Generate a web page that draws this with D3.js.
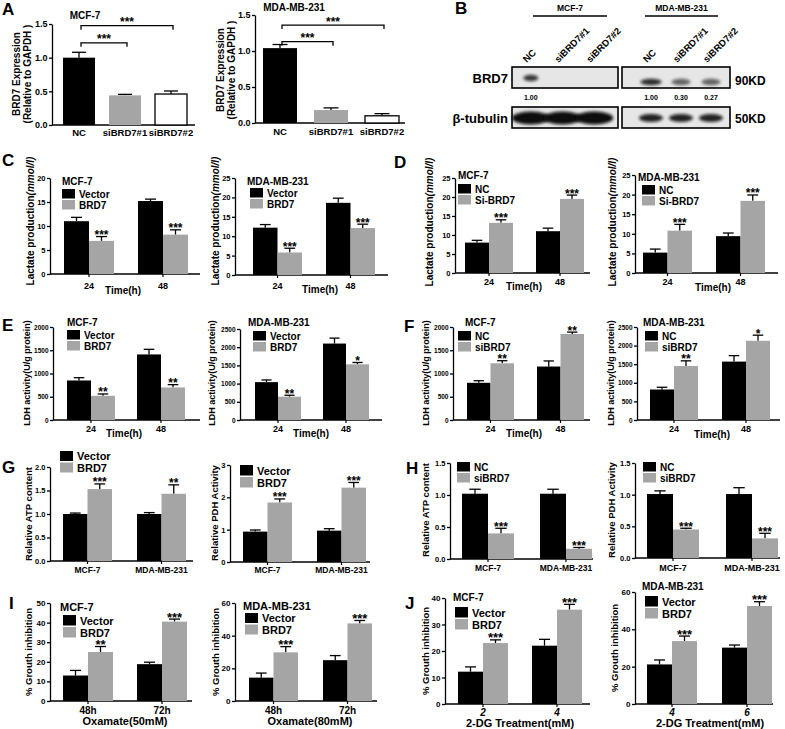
<!DOCTYPE html>
<html>
<head>
<meta charset="utf-8">
<script src="https://cdn.jsdelivr.net/npm/d3@7"></script>
<style>
  body { margin: 0; background: #fff; }
  svg { display: block; }
</style>
</head>
<body>
<div id="chart-area"></div>
<script>
// *********************
// Data
// *********************

// A - BRD7 expression (relative to GAPDH)
const aGroups = ["NC", "siBRD7#1", "siBRD7#2"];
const aMcf = [1.00, 0.44, 0.46];
const aMcfErr = [0.08, 0.015, 0.045];
const aMda = [1.04, 0.18, 0.10];
const aMdaErr = [0.05, 0.03, 0.03];
const aPairs = [[0, 1], [0, 2]];
const aMcfLevels = [1.22, 1.475];
const aMdaLevels = [1.13, 1.36];
const aStars = ["***", "***"];

// B - western blot
const bLanes = ["NC", "siBRD7#1", "siBRD7#2"];
const bCells = ["MCF-7", "MDA-MB-231"];
const bRows = ["BRD7", "β-tubulin"];
const bSizes = ["90KD", "50KD"];
const bBrd7Mcf = [0.8, 0, 0];
const bBrd7Mda = [0.85, 0.6, 0.6];
const bTubMcf = [1, 1, 1];
const bTubMda = [0.9, 0.9, 0.9];
const bRatioMcf = ["1.00", "", ""];
const bRatioMda = ["1.00", "0.30", "0.27"];

// C - lactate, BRD7 overexpression
const timeGroups = ["24", "48"];
const cMcfVector = [11.0, 15.2], cMcfVectorErr = [0.8, 0.4];
const cMcfBrd7 = [6.9, 8.2], cMcfBrd7Err = [0.9, 1.0];
const cMdaVector = [12.2, 18.6], cMdaVectorErr = [0.8, 1.2];
const cMdaBrd7 = [5.8, 12.1], cMdaBrd7Err = [1.1, 1.0];
const cStars = ["***", "***"];

// D - lactate, BRD7 knockdown
const dMcfNC = [8.0, 11.0], dMcfNCErr = [0.6, 0.8];
const dMcfSi = [13.2, 19.5], dMcfSiErr = [0.8, 1.0];
const dMdaNC = [5.2, 9.4], dMdaNCErr = [0.9, 0.8];
const dMdaSi = [10.8, 18.4], dMdaSiErr = [1.6, 1.5];
const dStars = ["***", "***"];

// E - LDH, overexpression
const eMcfVector = [850, 1410], eMcfVectorErr = [60, 110];
const eMcfBrd7 = [520, 700], eMcfBrd7Err = [40, 60];
const eMcfStars = ["**", "**"];
const eMdaVector = [1040, 2100], eMdaVectorErr = [60, 150];
const eMdaBrd7 = [640, 1530], eMdaBrd7Err = [40, 50];
const eMdaStars = ["**", "*"];

// F - LDH, knockdown
const fMcfNC = [800, 1150], fMcfNCErr = [45, 120];
const fMcfSi = [1220, 1850], fMcfSiErr = [55, 40];
const fMcfStars = ["**", "**"];
const fMdaNC = [820, 1570], fMdaNCErr = [60, 160];
const fMdaSi = [1450, 2130], fMdaSiErr = [140, 150];
const fMdaStars = ["**", "*"];

// G - ATP / PDH, overexpression
const cellGroups = ["MCF-7", "MDA-MB-231"];
const gAtpVector = [1.0, 1.0], gAtpVectorErr = [0.02, 0.03];
const gAtpBrd7 = [1.53, 1.43], gAtpBrd7Err = [0.11, 0.19];
const gAtpStars = ["***", "**"];
const gPdhVector = [0.94, 0.97], gPdhVectorErr = [0.05, 0.06];
const gPdhBrd7 = [1.84, 2.30], gPdhBrd7Err = [0.11, 0.16];
const gPdhStars = ["***", "***"];

// H - ATP / PDH, knockdown
const hAtpNC = [1.02, 1.02], hAtpNCErr = [0.07, 0.07];
const hAtpSi = [0.40, 0.16], hAtpSiErr = [0.08, 0.02];
const hPdhNC = [1.01, 1.01], hPdhNCErr = [0.05, 0.10];
const hPdhSi = [0.45, 0.31], hPdhSiErr = [0.02, 0.08];
const hStars = ["***", "***"];

// I - growth inhibition, oxamate
const iGroups = ["48h", "72h"];
const iMcfVector = [13.0, 18.8], iMcfVectorErr = [2.6, 1.0];
const iMcfBrd7 = [25.0, 40.5], iMcfBrd7Err = [2.8, 1.3];
const iMcfStars = ["**", "***"];
const iMdaVector = [14.3, 25.0], iMdaVectorErr = [2.8, 2.8];
const iMdaBrd7 = [29.8, 47.5], iMdaBrd7Err = [3.5, 1.8];
const iMdaStars = ["***", "***"];

// J - growth inhibition, 2-DG
const jMcfGroups = ["2", "4"], jMdaGroups = ["4", "6"];
const jMcfVector = [12.2, 22.0], jMcfVectorErr = [1.8, 2.4];
const jMcfBrd7 = [23.0, 35.6], jMcfBrd7Err = [1.2, 2.0];
const jMdaVector = [21.2, 30.2], jMdaVectorErr = [2.4, 1.4];
const jMdaBrd7 = [33.7, 52.5], jMdaBrd7Err = [2.7, 2.3];
const jStars = ["***", "***"];

// tick values
const ticks15 = [0, 0.5, 1.0, 1.5];
const ticks2 = [0, 0.5, 1.0, 1.5, 2.0];
const ticks3 = [0, 1, 2, 3];
const ticks20 = [0, 5, 10, 15, 20];
const ticks25 = [0, 5, 10, 15, 20, 25];
const ticks2000 = [0, 500, 1000, 1500, 2000];
const ticks2500 = [0, 500, 1000, 1500, 2000, 2500];
const ticks40 = [0, 10, 20, 30, 40];
const ticks50 = [0, 10, 20, 30, 40, 50];
const ticks60 = [0, 20, 40, 60];

// *********************
// Basic setup SVG
// *********************
const width = 785;
const height = 729;
const FONT = "'Liberation Sans', Arial, Helvetica, sans-serif";
const GRAY = "#a5a5a5";

const svg = d3.select("#chart-area")
  .append("svg")
  .attr("width", width)
  .attr("height", height)
  .attr("font-family", FONT)
  .attr("font-weight", "bold");

svg.append("rect")
  .attr("width", "100%")
  .attr("height", "100%")
  .attr("fill", "white");

// *********************
// Generic bar panel
// *********************
function barPanel(p) {
  const g = svg.append("g");
  const nS = p.series.length, nG = p.groups.length;

  const y = d3.scaleLinear().domain([0, p.yMax]).range([p.y0, p.yTop]);
  const L = p.barsR - p.barsL, b = p.barW * nS;
  const x0 = d3.scaleBand()
    .domain(p.groups)
    .range([p.barsL, p.barsR])
    .paddingInner((L - b * nG) / (L - b))
    .paddingOuter(0);
  const x1 = d3.scaleBand().domain(d3.range(nS)).range([0, x0.bandwidth()]);
  const mid = (gn, si) => x0(gn) + x1(si) + x1.bandwidth() / 2;
  const gMid = gn => x0(gn) + x0.bandwidth() / 2;

  // y axis
  const yAxisGroup = g.append("g")
    .attr("transform", "translate(" + p.ax + ",0)")
    .call(d3.axisLeft(y).tickValues(p.ticks).tickFormat(d3.format(p.fmt))
      .tickSize(3).tickSizeOuter(0).tickPadding(1.5));
  yAxisGroup.attr("font-family", FONT).attr("font-size", p.tickFont).attr("font-weight", "bold");
  yAxisGroup.selectAll("path, line").attr("stroke", "#000").attr("stroke-width", 1.3);
  yAxisGroup.selectAll("text").attr("fill", "#000");

  // x axis line
  g.append("line")
    .attr("x1", p.ax).attr("x2", p.xEnd)
    .attr("y1", p.y0).attr("y2", p.y0)
    .attr("stroke", "#000").attr("stroke-width", 1.3);

  if (p.xTicks) {
    g.selectAll(".xtick").data(p.groups).join("line")
      .attr("x1", gMid).attr("x2", gMid)
      .attr("y1", p.y0).attr("y2", p.y0 + 3)
      .attr("stroke", "#000").attr("stroke-width", 1.2);
  }

  // bars, error bars, stars
  p.series.forEach((s, si) => {
    const rows = p.groups.map((gn, gi) => ({
      gn, gi, v: p.values[si][gi], e: p.errors[si][gi]
    }));
    const cw = x1.bandwidth() * 0.22;

    g.append("g").selectAll("line").data(rows).join("line")
      .attr("x1", d => mid(d.gn, si)).attr("x2", d => mid(d.gn, si))
      .attr("y1", d => y(d.v)).attr("y2", d => y(d.v + d.e))
      .attr("stroke", "#000").attr("stroke-width", 1.3);

    g.append("g").selectAll("line").data(rows).join("line")
      .attr("x1", d => mid(d.gn, si) - cw).attr("x2", d => mid(d.gn, si) + cw)
      .attr("y1", d => y(d.v + d.e)).attr("y2", d => y(d.v + d.e))
      .attr("stroke", "#000").attr("stroke-width", 1.3);

    g.append("g").selectAll("rect").data(rows).join("rect")
      .attr("x", d => x0(d.gn) + x1(si))
      .attr("y", d => y(d.v))
      .attr("width", x1.bandwidth())
      .attr("height", d => y(0) - y(d.v))
      .attr("fill", d => p.barColors ? p.barColors[d.gi] : p.colors[si])
      .attr("stroke", d => (p.barColors && p.barColors[d.gi] === "#fff") ? "#000" : "none")
      .attr("stroke-width", 1.3);

    if (p.stars && si === nS - 1 && nS > 1) {
      g.append("g").selectAll("text").data(rows).join("text")
        .attr("x", d => mid(d.gn, si))
        .attr("y", d => y(d.v + d.e) + 2.5)
        .attr("text-anchor", "middle")
        .attr("font-size", p.starFont || 12)
        .text(d => p.stars[d.gi]);
    }
  });

  // significance brackets (panel A)
  if (p.pairs) {
    p.pairs.forEach((pr, k) => {
      const xa = gMid(p.groups[pr[0]]) + 2, xb = gMid(p.groups[pr[1]]) + 2;
      const yy = y(p.levels[k]);
      g.append("path")
        .attr("d", "M" + xa + "," + (yy + 4) + "V" + yy + "H" + xb + "V" + (yy + 4))
        .attr("fill", "none").attr("stroke", "#000").attr("stroke-width", 1.3);
      g.append("text")
        .attr("x", (xa + xb) / 2).attr("y", yy + 0.5)
        .attr("text-anchor", "middle").attr("font-size", 12)
        .text(p.pairStars[k]);
    });
  }

  // title
  if (p.title) {
    g.append("text")
      .attr("x", p.titleX).attr("y", p.titleY)
      .attr("text-anchor", p.titleAnchor || "start")
      .attr("font-size", p.titleFont || 10)
      .text(p.title);
  }

  // legend
  if (p.legend) {
    const lg = g.append("g");
    p.series.forEach((s, si) => {
      const yy = p.legend.y + si * p.legend.dy;
      lg.append("rect")
        .attr("x", p.legend.x).attr("y", yy + 1)
        .attr("width", 13).attr("height", p.legend.dy - 1.5)
        .attr("fill", p.colors[si]);
      lg.append("text")
        .attr("x", p.legend.x + 17).attr("y", yy + p.legend.dy - 1.5)
        .attr("font-size", p.legend.font)
        .text(s);
    });
  }

  // x labels
  g.selectAll(".xlab").data(p.groups).join("text")
    .attr("x", gMid).attr("y", p.xLabY)
    .attr("text-anchor", "middle")
    .attr("font-size", p.xLabFont)
    .attr("font-style", p.xItalic ? "italic" : "normal")
    .text(d => d);

  if (p.xTitle) {
    g.append("text")
      .attr("x", p.xTitleX).attr("y", p.xTitleY)
      .attr("text-anchor", "middle")
      .attr("font-size", p.xTitleFont || 10)
      .text(p.xTitle);
  }

  // y label (segments after "|" are italic)
  p.yLab.forEach((line, li) => {
    const t = g.append("text")
      .attr("transform", "translate(" + p.yLabX[li] + "," + p.yLabY + ") rotate(-90)")
      .attr("text-anchor", "middle")
      .attr("font-size", p.yLabFont);
    line.split("|").forEach((seg, k) => {
      t.append("tspan").attr("font-style", k > 0 ? "italic" : "normal").text(seg);
    });
  });
}

// *********************
// Western blot panel (B)
// *********************
function blotPanel() {
  const g = svg.append("g");
  const filt = svg.append("defs").append("filter")
    .attr("id", "blur").attr("x", "-50%").attr("y", "-150%")
    .attr("width", "200%").attr("height", "400%");
  filt.append("feGaussianBlur").attr("stdDeviation", 1.6);

  const boxes = [
    { x0: 512, x1: 618, lanes: [515, 610], line: [533, 607], brd7: bBrd7Mcf, tub: bTubMcf,
      ratio: bRatioMcf, brdY: 78, brdRx: 0.26, tubRx: 0.6, tubRy: 6.5 },
    { x0: 622, x1: 730, lanes: [636, 726], line: [645, 718], brd7: bBrd7Mda, tub: bTubMda,
      ratio: bRatioMda, brdY: 82, brdRx: 0.38, tubRx: 0.4, tubRy: 4 }
  ];

  boxes.forEach((bx, ci) => {
    const lane = d3.scaleBand().domain(bLanes).range(bx.lanes);
    const lc = d => lane(d) + lane.bandwidth() / 2;

    // cell line header
    g.append("text")
      .attr("x", (bx.line[0] + bx.line[1]) / 2).attr("y", 11)
      .attr("text-anchor", "middle").attr("font-size", 8.5)
      .text(bCells[ci]);
    g.append("line")
      .attr("x1", bx.line[0]).attr("x2", bx.line[1])
      .attr("y1", 16).attr("y2", 16)
      .attr("stroke", "#000").attr("stroke-width", 1.6);

    // lane labels
    g.selectAll(".lane" + ci).data(bLanes).join("text")
      .attr("transform", d => "translate(" + (lc(d) - 4) + ",63) rotate(-45)")
      .attr("font-size", 9.5)
      .text(d => d);

    // blot boxes
    [[67, 88], [107, 128]].forEach(([t, bt]) => {
      g.append("rect")
        .attr("x", bx.x0).attr("y", t)
        .attr("width", bx.x1 - bx.x0).attr("height", bt - t)
        .attr("fill", "#e6e6e6").attr("stroke", "#000").attr("stroke-width", 1.6);
    });

    // BRD7 bands
    g.append("g").selectAll("ellipse").data(bLanes).join("ellipse")
      .attr("cx", lc).attr("cy", bx.brdY)
      .attr("rx", (d, i) => lane.bandwidth() * bx.brdRx * (0.6 + 0.4 * bx.brd7[i]))
      .attr("ry", 3.2)
      .attr("fill", "#111")
      .attr("opacity", (d, i) => bx.brd7[i])
      .attr("filter", "url(#blur)");

    // tubulin bands
    g.append("g").selectAll("ellipse").data(bLanes).join("ellipse")
      .attr("cx", lc).attr("cy", 118)
      .attr("rx", lane.bandwidth() * bx.tubRx)
      .attr("ry", bx.tubRy)
      .attr("fill", "#0a0a0a")
      .attr("opacity", (d, i) => bx.tub[i])
      .attr("filter", "url(#blur)");

    // quantification
    g.selectAll(".ratio" + ci).data(bLanes).join("text")
      .attr("x", lc).attr("y", 100)
      .attr("text-anchor", "middle").attr("font-size", 7)
      .attr("fill", "#000")
      .text((d, i) => bx.ratio[i]);
  });

  // row labels and sizes
  bRows.forEach((r, i) => {
    g.append("text")
      .attr("x", 508).attr("y", i === 0 ? 83 : 123)
      .attr("text-anchor", "end").attr("font-size", 13)
      .text(r);
    g.append("text")
      .attr("x", 735).attr("y", i === 0 ? 85 : 123)
      .attr("font-size", 12)
      .text(bSizes[i]);
  });
}

// *********************
// Panels
// *********************

// A
barPanel({
  groups: aGroups, series: ["BRD7"], values: [aMcf], errors: [aMcfErr],
  colors: ["#000"], barColors: ["#000", GRAY, "#fff"],
  ax: 52, y0: 125, yTop: 24, yMax: 1.5, ticks: ticks15, fmt: ".1f", tickFont: 9,
  xEnd: 195, barsL: 63, barsR: 187, barW: 32,
  pairs: aPairs, levels: aMcfLevels, pairStars: aStars,
  title: "MCF-7", titleX: 85, titleY: 19, titleAnchor: "middle",
  xLabY: 136, xLabFont: 9.5,
  yLab: ["BRD7 Expression", "(Relative to GAPDH )"], yLabX: [20, 31], yLabY: 74, yLabFont: 10
});
barPanel({
  groups: aGroups, series: ["BRD7"], values: [aMda], errors: [aMdaErr],
  colors: ["#000"], barColors: ["#000", GRAY, "#fff"],
  ax: 255, y0: 123, yTop: 15, yMax: 1.5, ticks: ticks15, fmt: ".1f", tickFont: 9,
  xEnd: 405, barsL: 263, barsR: 399, barW: 34,
  pairs: aPairs, levels: aMdaLevels, pairStars: aStars,
  title: "MDA-MB-231", titleX: 294, titleY: 11, titleAnchor: "middle",
  xLabY: 135, xLabFont: 9.5,
  yLab: ["BRD7 Expression", "(Relative to GAPDH )"], yLabX: [224, 235], yLabY: 70, yLabFont: 10
});

// B
blotPanel();

// C
barPanel({
  groups: timeGroups, series: ["Vector", "BRD7"], colors: ["#000", GRAY],
  values: [cMcfVector, cMcfBrd7], errors: [cMcfVectorErr, cMcfBrd7Err], stars: cStars,
  ax: 50, y0: 274, yTop: 178, yMax: 20, ticks: ticks20, fmt: "d", tickFont: 7.5,
  xEnd: 200, barsL: 64, barsR: 188, barW: 25, xTicks: true,
  title: "MCF-7", titleX: 62, titleY: 185, legend: { x: 62, y: 188, dy: 11, font: 10 },
  xLabY: 289, xLabFont: 9, xTitle: "Time(h)", xTitleX: 123, xTitleY: 294,
  yLab: ["Lactate production|(mmol/l)"], yLabX: [34], yLabY: 221, yLabFont: 10
});
barPanel({
  groups: timeGroups, series: ["Vector", "BRD7"], colors: ["#000", GRAY],
  values: [cMdaVector, cMdaBrd7], errors: [cMdaVectorErr, cMdaBrd7Err], stars: cStars,
  ax: 235, y0: 275, yTop: 178, yMax: 25, ticks: ticks25, fmt: "d", tickFont: 7.5,
  xEnd: 388, barsL: 253, barsR: 375, barW: 24.5, xTicks: true,
  title: "MDA-MB-231", titleX: 247, titleY: 185, legend: { x: 250, y: 187, dy: 11, font: 10 },
  xLabY: 289, xLabFont: 9, xTitle: "Time(h)", xTitleX: 320, xTitleY: 293,
  yLab: ["Lactate production|(mmol/l)"], yLabX: [219], yLabY: 221, yLabFont: 10
});

// D
barPanel({
  groups: timeGroups, series: ["NC", "Si-BRD7"], colors: ["#000", GRAY],
  values: [dMcfNC, dMcfSi], errors: [dMcfNCErr, dMcfSiErr], stars: dStars,
  ax: 455, y0: 273, yTop: 178, yMax: 25, ticks: ticks25, fmt: "d", tickFont: 7.5,
  xEnd: 590, barsL: 465, barsR: 584, barW: 24, xTicks: true,
  title: "MCF-7", titleX: 458, titleY: 179, legend: { x: 458, y: 183, dy: 11, font: 10 },
  xLabY: 285, xLabFont: 9, xTitle: "Time(h)", xTitleX: 524, xTitleY: 290,
  yLab: ["Lactate production|(mmol/l)"], yLabX: [433], yLabY: 222, yLabFont: 10
});
barPanel({
  groups: timeGroups, series: ["NC", "Si-BRD7"], colors: ["#000", GRAY],
  values: [dMdaNC, dMdaSi], errors: [dMdaNCErr, dMdaSiErr], stars: dStars,
  ax: 635, y0: 273, yTop: 175, yMax: 25, ticks: ticks25, fmt: "d", tickFont: 7.5,
  xEnd: 778, barsL: 643, barsR: 765, barW: 24.5, xTicks: true,
  title: "MDA-MB-231", titleX: 638, titleY: 181, legend: { x: 642, y: 184, dy: 11, font: 10 },
  xLabY: 285, xLabFont: 9, xTitle: "Time(h)", xTitleX: 713, xTitleY: 291,
  yLab: ["Lactate production|(mmol/l)"], yLabX: [616], yLabY: 222, yLabFont: 10
});

// E
barPanel({
  groups: timeGroups, series: ["Vector", "BRD7"], colors: ["#000", GRAY],
  values: [eMcfVector, eMcfBrd7], errors: [eMcfVectorErr, eMcfBrd7Err], stars: eMcfStars,
  ax: 53, y0: 420, yTop: 327, yMax: 2000, ticks: ticks2000, fmt: "d", tickFont: 6.5,
  xEnd: 200, barsL: 67, barsR: 185, barW: 24, xTicks: true,
  title: "MCF-7", titleX: 67, titleY: 326, legend: { x: 67, y: 329, dy: 11, font: 10 },
  xLabY: 432, xLabFont: 9, xTitle: "Time(h)", xTitleX: 124, xTitleY: 437,
  yLab: ["LDH activity(U/g protein)"], yLabX: [30], yLabY: 373, yLabFont: 9
});
barPanel({
  groups: timeGroups, series: ["Vector", "BRD7"], colors: ["#000", GRAY],
  values: [eMdaVector, eMdaBrd7], errors: [eMdaVectorErr, eMdaBrd7Err], stars: eMdaStars,
  ax: 240, y0: 420, yTop: 329, yMax: 2500, ticks: ticks2500, fmt: "d", tickFont: 6.5,
  xEnd: 382, barsL: 255, barsR: 369, barW: 23, xTicks: true,
  title: "MDA-MB-231", titleX: 248, titleY: 326, legend: { x: 253, y: 330, dy: 11, font: 10 },
  xLabY: 432, xLabFont: 9, xTitle: "Time(h)", xTitleX: 311, xTitleY: 437,
  yLab: ["LDH activity(U/g protein)"], yLabX: [215], yLabY: 373, yLabFont: 9
});

// F
barPanel({
  groups: timeGroups, series: ["NC", "siBRD7"], colors: ["#000", GRAY],
  values: [fMcfNC, fMcfSi], errors: [fMcfNCErr, fMcfSiErr], stars: fMcfStars,
  ax: 453, y0: 420, yTop: 327, yMax: 2000, ticks: ticks2000, fmt: "d", tickFont: 6.5,
  xEnd: 590, barsL: 467, barsR: 584, barW: 23.5, xTicks: true,
  title: "MCF-7", titleX: 465, titleY: 326, legend: { x: 458, y: 330, dy: 11, font: 10 },
  xLabY: 432, xLabFont: 9, xTitle: "Time(h)", xTitleX: 524, xTitleY: 437,
  yLab: ["LDH activity(U/g protein)"], yLabX: [429], yLabY: 373, yLabFont: 9
});
barPanel({
  groups: timeGroups, series: ["NC", "siBRD7"], colors: ["#000", GRAY],
  values: [fMdaNC, fMdaSi], errors: [fMdaNCErr, fMdaSiErr], stars: fMdaStars,
  ax: 637, y0: 420, yTop: 327, yMax: 2500, ticks: ticks2500, fmt: "d", tickFont: 6.5,
  xEnd: 780, barsL: 650, barsR: 770, barW: 24, xTicks: true,
  title: "MDA-MB-231", titleX: 643, titleY: 326, legend: { x: 645, y: 330, dy: 11, font: 10 },
  xLabY: 432, xLabFont: 9, xTitle: "Time(h)", xTitleX: 712, xTitleY: 438,
  yLab: ["LDH activity(U/g protein)"], yLabX: [614], yLabY: 373, yLabFont: 9
});

// G
barPanel({
  groups: cellGroups, series: ["Vector", "BRD7"], colors: ["#000", GRAY],
  values: [gAtpVector, gAtpBrd7], errors: [gAtpVectorErr, gAtpBrd7Err], stars: gAtpStars,
  ax: 50, y0: 561, yTop: 467, yMax: 2, ticks: ticks2, fmt: ".1f", tickFont: 7.5,
  xEnd: 193, barsL: 63, barsR: 186, barW: 24.5, xTicks: true,
  legend: { x: 60, y: 450, dy: 11.5, font: 11 },
  xLabY: 573, xLabFont: 8.5,
  yLab: ["Relative ATP content"], yLabX: [32], yLabY: 514, yLabFont: 9.5
});
barPanel({
  groups: cellGroups, series: ["Vector", "BRD7"], colors: ["#000", GRAY],
  values: [gPdhVector, gPdhBrd7], errors: [gPdhVectorErr, gPdhBrd7Err], stars: gPdhStars,
  ax: 230, y0: 562, yTop: 465, yMax: 3, ticks: ticks3, fmt: "d", tickFont: 7.5,
  xEnd: 370, barsL: 243, barsR: 366, barW: 24.5, xTicks: true,
  legend: { x: 240, y: 464, dy: 12, font: 11 },
  xLabY: 573, xLabFont: 8.5,
  yLab: ["Relative PDH Activity"], yLabX: [218], yLabY: 513, yLabFont: 9.5
});

// H
barPanel({
  groups: cellGroups, series: ["NC", "siBRD7"], colors: ["#000", GRAY],
  values: [hAtpNC, hAtpSi], errors: [hAtpNCErr, hAtpSiErr], stars: hStars,
  ax: 450, y0: 559, yTop: 463, yMax: 1.5, ticks: ticks15, fmt: ".1f", tickFont: 7.5,
  xEnd: 593, barsL: 462, barsR: 592, barW: 26, xTicks: true,
  legend: { x: 457, y: 461, dy: 11, font: 10 },
  xLabY: 571, xLabFont: 8.5,
  yLab: ["Relative ATP content"], yLabX: [429], yLabY: 510, yLabFont: 9.5
});
barPanel({
  groups: cellGroups, series: ["NC", "siBRD7"], colors: ["#000", GRAY],
  values: [hPdhNC, hPdhSi], errors: [hPdhNCErr, hPdhSiErr], stars: hStars,
  ax: 635, y0: 558, yTop: 463, yMax: 1.5, ticks: ticks15, fmt: ".1f", tickFont: 7.5,
  xEnd: 780, barsL: 647, barsR: 778, barW: 26, xTicks: true,
  legend: { x: 643, y: 461, dy: 11, font: 10 },
  xLabY: 571, xLabFont: 9,
  yLab: ["Relative PDH Activity"], yLabX: [615], yLabY: 510, yLabFont: 9.5
});

// I
barPanel({
  groups: iGroups, series: ["Vector", "BRD7"], colors: ["#000", GRAY],
  values: [iMcfVector, iMcfBrd7], errors: [iMcfVectorErr, iMcfBrd7Err], stars: iMcfStars, starFont: 13,
  ax: 50, y0: 701, yTop: 603, yMax: 50, ticks: ticks50, fmt: "d", tickFont: 8,
  xEnd: 192, barsL: 63, barsR: 187, barW: 25, xTicks: true,
  title: "MCF-7", titleX: 60, titleY: 611, titleFont: 11, legend: { x: 63, y: 614, dy: 12, font: 11 },
  xLabY: 714, xLabFont: 10, xTitle: "Oxamate(50mM)", xTitleX: 125, xTitleY: 725, xTitleFont: 11,
  yLab: ["% Grouth inhibition"], yLabX: [32], yLabY: 652, yLabFont: 9.5
});
barPanel({
  groups: iGroups, series: ["Vector", "BRD7"], colors: ["#000", GRAY],
  values: [iMdaVector, iMdaBrd7], errors: [iMdaVectorErr, iMdaBrd7Err], stars: iMdaStars, starFont: 13,
  ax: 235, y0: 701, yTop: 603, yMax: 60, ticks: ticks60, fmt: "d", tickFont: 8,
  xEnd: 377, barsL: 249, barsR: 372, barW: 24.5, xTicks: true,
  title: "MDA-MB-231", titleX: 243, titleY: 610, titleFont: 11, legend: { x: 245, y: 612, dy: 11.5, font: 11 },
  xLabY: 714, xLabFont: 10, xTitle: "Oxamate(80mM)", xTitleX: 310, xTitleY: 725, xTitleFont: 11,
  yLab: ["% Grouth inhibition"], yLabX: [219], yLabY: 652, yLabFont: 9.5
});

// J
barPanel({
  groups: jMcfGroups, series: ["Vector", "BRD7"], colors: ["#000", GRAY],
  values: [jMcfVector, jMcfBrd7], errors: [jMcfVectorErr, jMcfBrd7Err], stars: jStars, starFont: 13,
  ax: 445, y0: 704, yTop: 598, yMax: 40, ticks: ticks40, fmt: "d", tickFont: 8,
  xEnd: 590, barsL: 458, barsR: 582, barW: 25, xTicks: true,
  title: "MCF-7", titleX: 453, titleY: 601, titleFont: 10, legend: { x: 455, y: 606, dy: 12, font: 11 },
  xLabY: 716, xLabFont: 10, xItalic: true,
  xTitle: "2-DG Treatment(mM)", xTitleX: 520, xTitleY: 727, xTitleFont: 11,
  yLab: ["% Grouth inhibition"], yLabX: [429], yLabY: 651, yLabFont: 9.5
});
barPanel({
  groups: jMdaGroups, series: ["Vector", "BRD7"], colors: ["#000", GRAY],
  values: [jMdaVector, jMdaBrd7], errors: [jMdaVectorErr, jMdaBrd7Err], stars: jStars, starFont: 13,
  ax: 635, y0: 704, yTop: 592, yMax: 60, ticks: ticks60, fmt: "d", tickFont: 8,
  xEnd: 773, barsL: 647, barsR: 772, barW: 25, xTicks: true,
  title: "MDA-MB-231", titleX: 642, titleY: 590, titleFont: 10, legend: { x: 645, y: 595, dy: 12, font: 11 },
  xLabY: 716, xLabFont: 10, xItalic: true,
  xTitle: "2-DG Treatment(mM)", xTitleX: 710, xTitleY: 727, xTitleFont: 11,
  yLab: ["% Grouth inhibition"], yLabX: [618], yLabY: 648, yLabFont: 9.5
});

// *********************
// Panel letters
// *********************
const panelLetters = ["A", "B", "C", "D", "E", "F", "G", "H", "I", "J"];
const letterPos = [[2, 15], [455, 14], [2, 166], [394, 168], [2, 331],
                   [404, 332], [2, 473], [406, 474], [9, 609], [405, 609]];
svg.append("g").selectAll("text").data(panelLetters).join("text")
  .attr("x", (d, i) => letterPos[i][0])
  .attr("y", (d, i) => letterPos[i][1])
  .attr("font-size", 17)
  .text(d => d);
</script>
</body>
</html>
